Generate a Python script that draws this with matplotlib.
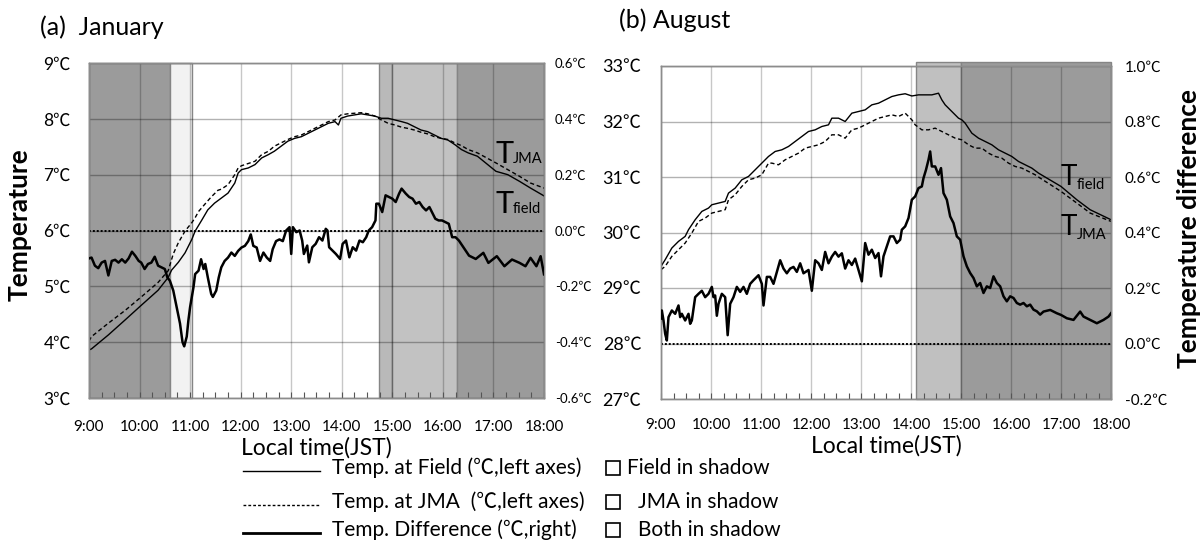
import matplotlib
matplotlib.use('Agg')
import matplotlib.pyplot as plt
import numpy as np
from matplotlib.ticker import MultipleLocator
from matplotlib.lines import Line2D
from matplotlib.patches import Rectangle

plt.rcParams['font.family'] = ['Lato', 'Noto Sans CJK JP', 'DejaVu Sans']

# ---------------- data (minutes after 9:00 JST) ----------------
hour_labels = ['9:00', '10:00', '11:00', '12:00', '13:00', '14:00', '15:00', '16:00', '17:00', '18:00']

# (a) January
jan_field_min = [0, 3, 23, 43, 62, 82, 94, 98, 106, 114, 122, 126, 134, 141, 149, 157, 165, 173, 177, 181,
                 189, 197, 205, 213, 220, 228, 236, 244, 252, 260, 268, 276, 284, 292, 296, 299, 307, 315, 323, 331,
                 339, 347, 355, 363, 371, 378, 386, 394, 402, 410, 418, 426, 434, 442, 450, 461, 483, 497, 511, 524, 540]
jan_field = [3.86, 3.88, 4.13, 4.40, 4.66, 4.93, 5.16, 5.29, 5.43, 5.60, 5.84, 5.99, 6.19, 6.37, 6.49, 6.58, 6.67, 6.85, 7.03, 7.09,
             7.12, 7.18, 7.30, 7.36, 7.42, 7.51, 7.60, 7.65, 7.68, 7.74, 7.80, 7.86, 7.92, 7.95, 7.89, 8.01, 8.05, 8.07, 8.09, 8.07,
             8.05, 8.01, 8.01, 7.98, 7.95, 7.92, 7.86, 7.80, 7.77, 7.71, 7.65, 7.62, 7.54, 7.45, 7.39, 7.33, 7.06, 7.00, 6.88, 6.76, 6.62]

jan_jma_min = [0, 3, 23, 43, 62, 82, 94, 100, 106, 114, 122, 126, 130, 138, 145, 153, 157, 165, 173, 177,
               181, 189, 197, 205, 213, 220, 228, 236, 244, 252, 260, 268, 276, 284, 292, 299, 307, 315, 323, 331,
               339, 347, 355, 363, 371, 378, 386, 394, 402, 410, 418, 426, 434, 442, 450, 461, 483, 497, 511, 524, 540]
jan_jma = [4.02, 4.10, 4.34, 4.57, 4.81, 5.07, 5.28, 5.58, 5.78, 5.99, 6.14, 6.23, 6.34, 6.48, 6.60, 6.72, 6.74, 6.82, 7.00, 7.12,
           7.16, 7.20, 7.24, 7.36, 7.42, 7.51, 7.57, 7.63, 7.68, 7.71, 7.77, 7.83, 7.89, 7.95, 7.98, 8.07, 8.09, 8.10, 8.11, 8.09,
           8.05, 7.98, 7.92, 7.89, 7.85, 7.83, 7.80, 7.76, 7.73, 7.68, 7.65, 7.63, 7.57, 7.52, 7.45, 7.39, 7.21, 7.09, 6.97, 6.85, 6.76]

jan_diff_min = [0, 3, 7, 11, 15, 19, 23, 27, 31, 35, 39, 43, 47, 51, 55, 59, 62, 66, 70, 74,
                78, 82, 86, 90, 93, 96, 100, 104, 108, 111, 113, 116, 118, 120, 124, 126, 130, 133, 136, 138,
                141, 145, 147, 151, 154, 157, 161, 165, 169, 173, 177, 181, 185, 189, 192, 195, 199, 203, 207, 211,
                215, 218, 222, 226, 230, 234, 238, 240, 242, 246, 250, 253, 255, 259, 261, 265, 269, 273, 277, 281,
                283, 285, 289, 293, 298, 301, 305, 309, 313, 317, 321, 325, 329, 332, 336, 340, 341, 344, 348, 352,
                356, 360, 364, 368, 371, 376, 380, 384, 388, 392, 396, 400, 404, 408, 411, 415, 419, 423, 427, 431,
                435, 439, 443, 447, 451, 455, 459, 468, 474, 484, 493, 502, 511, 518, 524, 531, 536, 540]
jan_diff = [-0.100, -0.097, -0.126, -0.135, -0.115, -0.109, -0.161, -0.109, -0.105, -0.115, -0.103, -0.115, -0.100, -0.076, -0.091, -0.109, -0.115, -0.138, -0.120, -0.115,
            -0.094, -0.126, -0.132, -0.138, -0.168, -0.180, -0.215, -0.274, -0.333, -0.400, -0.415, -0.380, -0.321, -0.274, -0.203, -0.156, -0.144, -0.103, -0.138, -0.120,
            -0.168, -0.227, -0.238, -0.215, -0.168, -0.132, -0.109, -0.097, -0.079, -0.091, -0.073, -0.061, -0.055, -0.038, -0.014, -0.055, -0.061, -0.109, -0.079, -0.097,
            -0.109, -0.067, -0.038, -0.032, -0.038, 0.000, 0.012, -0.084, 0.012, -0.006, 0.000, -0.036, -0.084, -0.054, -0.114, -0.060, -0.048, -0.024, -0.036, 0.006,
            0.000, -0.060, -0.072, -0.084, -0.102, -0.048, -0.036, -0.096, -0.060, -0.072, -0.036, -0.042, -0.024, 0.000, 0.012, 0.036, 0.096, 0.096, 0.066, 0.126,
            0.120, 0.114, 0.102, 0.132, 0.150, 0.132, 0.120, 0.114, 0.096, 0.102, 0.084, 0.072, 0.084, 0.060, 0.042, 0.036, 0.036, 0.030, 0.024, -0.024,
            -0.024, -0.036, -0.054, -0.072, -0.090, -0.096, -0.102, -0.080, -0.116, -0.092, -0.128, -0.104, -0.116, -0.128, -0.098, -0.128, -0.092, -0.157]

# (b) August
aug_field_min = [0, 5, 13, 21, 29, 33, 41, 49, 57, 61, 69, 77, 81, 89, 97, 105, 113, 121, 129, 137,
                 145, 153, 161, 169, 177, 185, 193, 201, 205, 213, 221, 229, 237, 245, 253, 261, 269, 277, 285, 293,
                 301, 309, 317, 325, 333, 337, 341, 349, 357, 361, 365, 373, 381, 389, 397, 405, 413, 421, 429, 437,
                 445, 453, 480, 499, 515, 540]
aug_field = [29.39, 29.51, 29.72, 29.84, 29.93, 30.05, 30.23, 30.38, 30.44, 30.50, 30.53, 30.56, 30.71, 30.80, 30.95, 31.01, 31.13, 31.25, 31.37, 31.46,
             31.49, 31.55, 31.64, 31.73, 31.82, 31.85, 31.91, 31.94, 32.06, 32.06, 32.00, 32.15, 32.18, 32.21, 32.30, 32.33, 32.39, 32.45, 32.48, 32.50,
             32.46, 32.48, 32.48, 32.48, 32.51, 32.39, 32.30, 32.18, 32.06, 32.03, 31.97, 31.79, 31.70, 31.64, 31.58, 31.49, 31.43, 31.37, 31.28, 31.22,
             31.16, 31.07, 30.83, 30.59, 30.41, 30.23]

aug_jma_min = [0, 5, 13, 21, 29, 37, 45, 53, 61, 69, 77, 81, 89, 97, 105, 113, 121, 129, 133, 141,
               149, 157, 165, 173, 181, 189, 197, 205, 213, 221, 229, 237, 245, 253, 261, 269, 277, 285, 293, 301,
               305, 313, 321, 329, 337, 345, 353, 361, 369, 377, 385, 393, 401, 409, 417, 425, 433, 441, 449, 455,
               480, 499, 515, 540]
aug_jma = [29.33, 29.39, 29.57, 29.69, 29.81, 29.99, 30.20, 30.26, 30.35, 30.38, 30.41, 30.59, 30.68, 30.83, 30.95, 30.98, 31.04, 31.25, 31.25, 31.22,
           31.31, 31.37, 31.43, 31.52, 31.55, 31.58, 31.64, 31.76, 31.76, 31.70, 31.85, 31.88, 31.94, 32.00, 32.06, 32.09, 32.12, 32.09, 32.15, 32.03,
           31.94, 31.85, 31.85, 31.88, 31.82, 31.76, 31.70, 31.67, 31.58, 31.52, 31.52, 31.43, 31.37, 31.34, 31.25, 31.19, 31.16, 31.10, 31.04, 30.98,
           30.74, 30.53, 30.35, 30.20]

aug_diff_min = [0, 1, 3, 5, 7, 9, 11, 13, 17, 21, 23, 25, 29, 33, 35, 37, 41, 45, 49, 53,
                57, 61, 63, 65, 67, 69, 73, 77, 80, 83, 87, 91, 95, 99, 103, 107, 111, 117, 121, 123,
                127, 131, 135, 139, 143, 147, 151, 155, 159, 163, 167, 171, 177, 181, 185, 189, 193, 197, 201, 205,
                209, 213, 217, 221, 225, 229, 233, 241, 245, 249, 253, 257, 261, 264, 267, 271, 275, 279, 283, 287,
                289, 293, 297, 301, 305, 309, 313, 315, 318, 321, 323, 325, 329, 333, 336, 339, 343, 347, 351, 355,
                359, 363, 367, 371, 375, 379, 383, 387, 391, 395, 399, 403, 407, 411, 415, 419, 423, 427, 431, 435,
                439, 443, 447, 451, 455, 459, 467, 475, 480, 487, 495, 503, 507, 515, 523, 531, 537, 540]
aug_diff = [0.090, 0.119, 0.083, 0.035, 0.011, 0.095, 0.107, 0.119, 0.107, 0.137, 0.095, 0.107, 0.083, 0.107, 0.071, 0.083, 0.167, 0.179, 0.190, 0.167,
            0.179, 0.204, 0.167, 0.173, 0.100, 0.143, 0.179, 0.167, 0.030, 0.143, 0.167, 0.204, 0.186, 0.204, 0.179, 0.215, 0.228, 0.246, 0.215, 0.137,
            0.240, 0.240, 0.215, 0.258, 0.300, 0.270, 0.253, 0.270, 0.276, 0.258, 0.289, 0.253, 0.265, 0.190, 0.300, 0.289, 0.265, 0.330, 0.289, 0.313,
            0.330, 0.313, 0.325, 0.270, 0.300, 0.283, 0.306, 0.224, 0.362, 0.320, 0.338, 0.308, 0.326, 0.242, 0.314, 0.350, 0.386, 0.386, 0.362, 0.374,
            0.410, 0.422, 0.452, 0.518, 0.530, 0.560, 0.566, 0.596, 0.626, 0.662, 0.692, 0.638, 0.638, 0.608, 0.632, 0.542, 0.518, 0.458, 0.434, 0.386,
            0.374, 0.314, 0.278, 0.254, 0.236, 0.206, 0.218, 0.182, 0.206, 0.200, 0.242, 0.218, 0.206, 0.170, 0.152, 0.170, 0.164, 0.146, 0.140, 0.146,
            0.134, 0.140, 0.122, 0.116, 0.104, 0.115, 0.121, 0.109, 0.103, 0.091, 0.085, 0.115, 0.097, 0.085, 0.073, 0.085, 0.097, 0.109]

# shadow periods (hours)
jan_spans = [(9.0, 10.60, '#9b9b9b'), (10.60, 11.03, '#f2f2f2'), (14.73, 15.0, '#b9b9b9'),
             (15.0, 16.27, '#c2c2c2'), (16.27, 18.0, '#9b9b9b')]
aug_spans = [(14.10, 15.0, '#c0c0c0'), (15.0, 18.0, '#9b9b9b')]

W, H = 1204, 555
fig = plt.figure(figsize=(W / 100, H / 100), dpi=100)


def hrs(m):
    return 9 + np.asarray(m, dtype=float) / 60.0


def make_panel(rect, ylim, y2lim, y2ticks, spans, field_t, field_v, jma_t, jma_v, diff_t, diff_v,
               ysize, y2size, ypad, y2pad, xpad, span_top):
    ax = fig.add_axes(rect)
    ax.set_xlim(9, 18)
    ax.set_ylim(*ylim)
    for a, b, c in spans:
        ax.axvspan(a, b, ymax=span_top, facecolor=c, edgecolor='#858585', lw=1.0, zorder=1,
                   clip_on=False)
    ax.set_axisbelow('line')
    ax.grid(True, axis='y', color='black', alpha=0.3, lw=1.0)
    ax.grid(True, axis='x', color='black', alpha=0.22, lw=1.0)
    ax.set_xticks(range(9, 19))
    ax.set_xticklabels(hour_labels)
    ax.xaxis.set_minor_locator(MultipleLocator(0.25))
    yt = list(range(int(ylim[0]), int(ylim[1]) + 1))
    ax.set_yticks(yt)
    ax.set_yticklabels([f'{v}℃' for v in yt])
    ax.tick_params(axis='x', which='both', direction='in', length=4, width=0.8, color='#555555',
                   labelsize=11, pad=xpad)
    ax.tick_params(axis='y', length=0, labelsize=ysize, pad=ypad)
    ax.plot(hrs(field_t), field_v, color='black', lw=1.0, zorder=3)
    ax.plot(hrs(jma_t), jma_v, color='black', lw=1.0, dashes=(3, 2), zorder=3)
    ax.set_xlabel('Local time(JST)', fontsize=16.5, labelpad=2)
    ax2 = ax.twinx()
    ax2.set_ylim(*y2lim)
    ax2.set_yticks(y2ticks)
    ax2.set_yticklabels(['%.1f℃' % v for v in y2ticks])
    ax2.tick_params(axis='y', length=0, labelsize=y2size, pad=y2pad)
    ax2.axhline(0, color='black', lw=1.4, dashes=(1, 1), zorder=2)
    ax2.plot(hrs(diff_t), diff_v, color='black', lw=1.8, zorder=3)
    for a in (ax, ax2):
        for s in a.spines.values():
            s.set_color('#8c8c8c')
            s.set_linewidth(1.0)
    return ax, ax2


axL, axL2 = make_panel([89 / W, 1 - 398 / H, 455 / W, 335 / H], (3, 9), (-0.6, 0.6),
                       [-0.6, -0.4, -0.2, 0.0, 0.2, 0.4, 0.6], jan_spans,
                       jan_field_min, jan_field, jan_jma_min, jan_jma, jan_diff_min, jan_diff,
                       ysize=12.5, y2size=9.5, ypad=13, y2pad=8, xpad=16, span_top=1.0)
axR, axR2 = make_panel([661 / W, 1 - 399 / H, 450 / W, 333 / H], (27, 33), (-0.2, 1.0),
                       [-0.2, 0.0, 0.2, 0.4, 0.6, 0.8, 1.0], aug_spans,
                       aug_field_min, aug_field, aug_jma_min, aug_jma, aug_diff_min, aug_diff,
                       ysize=13, y2size=11, ypad=14, y2pad=10, xpad=14, span_top=1.012)

# curve labels
axL.text(17.04, 7.21, 'T', fontsize=22, va='baseline', ha='left', zorder=5)
axL.text(17.38, 7.21, 'JMA', fontsize=10.5, va='baseline', ha='left', zorder=5)
axL.text(17.04, 6.32, 'T', fontsize=22, va='baseline', ha='left', zorder=5)
axL.text(17.38, 6.32, 'field', fontsize=10.5, va='baseline', ha='left', zorder=5)
axR.text(17.00, 30.85, 'T', fontsize=20, va='baseline', ha='left', zorder=5)
axR.text(17.32, 30.78, 'field', fontsize=10.5, va='baseline', ha='left', zorder=5)
axR.text(17.00, 29.95, 'T', fontsize=20, va='baseline', ha='left', zorder=5)
axR.text(17.32, 29.88, 'JMA', fontsize=10.5, va='baseline', ha='left', zorder=5)

# titles and axis titles
fig.text(40 / W, 1 - 27 / H, '(a)  January', fontsize=18, va='center', ha='left')
fig.text(619 / W, 1 - 20 / H, '(b) August', fontsize=18, va='center', ha='left')
fig.text(20 / W, 1 - 225 / H, 'Temperature', rotation=90, fontsize=19, fontweight='bold',
         ha='center', va='center')
fig.text(1189 / W, 1 - 229 / H, 'Temperature difference', rotation=90, fontsize=19, fontweight='bold',
         ha='center', va='center')

# legend (drawn manually)
leg_rows = [('Temp. at Field (℃,left axes)', 'Field in shadow', {'lw': 1.0}, 468),
            ('Temp. at JMA  (℃,left axes)', 'JMA in shadow', {'lw': 1.0, 'dashes': (2, 1.5)}, 502),
            ('Temp. Difference (℃,right)', 'Both in shadow', {'lw': 2.0}, 530)]
for i, (lab, shade_lab, style, yc) in enumerate(leg_rows):
    fy = 1 - (yc + 3) / H
    fig.add_artist(Line2D([243 / W, 320 / W], [fy, fy], color='black', **style))
    fig.text(332 / W, 1 - yc / H, lab, fontsize=15, va='center', ha='left')
    fig.add_artist(Rectangle((606 / W, 1 - (yc + 7) / H), 14 / W, 14 / H, facecolor='white',
                             edgecolor='black', lw=1.2))
    fig.text((627 if i == 0 else 638) / W, 1 - yc / H, shade_lab, fontsize=15, va='center', ha='left')

fig.savefig('out.png', dpi=100)
